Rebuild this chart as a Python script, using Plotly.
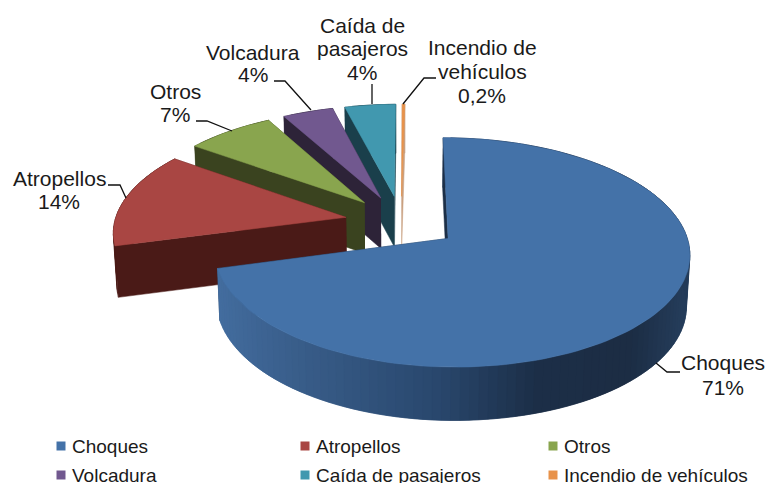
import numpy as np
import plotly.graph_objects as go

categories = ["Choques", "Atropellos", "Otros", "Volcadura", "Caída de pasajeros", "Incendio de vehículos"]
values = [71, 14, 7, 4, 4, 0.2]
value_labels = ["71%", "14%", "7%", "4%", "4%", "0,2%"]
label_lines = [["Choques"], ["Atropellos"], ["Otros"], ["Volcadura"], ["Caída de", "pasajeros"], ["Incendio de", "vehículos"]]
top_colors = ["#4472A8", "#A94643", "#89A54E", "#71588F", "#4198AF", "#E8924A"]
side_colors = ["#1C2F47", "#4A1A17", "#3A431F", "#2D2338", "#1A3F4B", "#C9A080"]

# projection of the exploded, tilted pie
CX, CY, W, H, D, K, PULL = 402, 222, 235, 109, 51, 0.12, 0.243


def project(X, Y, z=0.0):
    X, Y = np.asarray(X, float), np.asarray(Y, float)
    s = 1 / (1 + K * Y)
    return CX + W * X * s * (1 - 0.012 * z), CY - H * Y * s + D * z * s ** 0.3


fig = go.Figure()


def poly(xs, ys, color, name=None):
    fig.add_trace(go.Scatter(x=list(xs), y=list(ys), mode="lines", fill="toself", fillcolor=color,
                             line=dict(color=color, width=0.5), showlegend=False, hoverinfo="skip", name=name))


def blue_shade(sx):
    st = [217, 300, 450, 550, 640, 690]
    r = np.interp(sx, st, [68, 58, 42, 28, 28, 38])
    g = np.interp(sx, st, [110, 95, 72, 47, 45, 62])
    b = np.interp(sx, st, [160, 140, 110, 72, 68, 92])
    return f"rgb({int(r)},{int(g)},{int(b)})"


total = sum(values)
edges = np.concatenate([[0], np.cumsum(values)]) / total * 360

for i in range(len(values) - 1, -1, -1):
    a0, a1 = np.radians(edges[i]), np.radians(edges[i + 1])
    mid = (a0 + a1) / 2
    ax, ay = PULL * np.sin(mid), PULL * np.cos(mid)
    n = max(2, int(np.degrees(a1 - a0) / 2))
    th = np.linspace(a0, a1, n + 1)
    sn = np.sin(th)
    if i == 0:
        X = ax + np.where(sn < 0, 0.972, 1.0) * sn
    else:
        X = ax + sn + 0.015
    Y = ay + np.cos(th)
    # end radial wall, arc wall (overlapping segments drawn from the tail so no seams), start radial wall
    p = [project(ax, ay), project(X[-1], Y[-1]), project(X[-1], Y[-1], 1), project(ax, ay, 1)]
    poly([q[0] for q in p], [q[1] for q in p], side_colors[i])
    for j in range(n - 1, -1, -1):
        e = min(j + 2, n)
        p = [project(X[j], Y[j]), project(X[e], Y[e]), project(X[e], Y[e], 1), project(X[j], Y[j], 1)]
        m = project(X[j], Y[j])[0]
        c = blue_shade(float(m)) if i == 0 else side_colors[i]
        poly([q[0] for q in p], [q[1] for q in p], c)
    p = [project(ax, ay), project(X[0], Y[0]), project(X[0], Y[0], 1), project(ax, ay, 1)]
    poly([q[0] for q in p], [q[1] for q in p], side_colors[i])
    tx, ty = project(np.r_[ax, X, ax], np.r_[ay, Y, ay])
    poly(tx, ty, top_colors[i], categories[i])

# leader lines
leaders = [
    ([656, 667, 680], [363, 372, 372]),
    ([108, 120, 126], [185, 185, 198]),
    ([196, 207, 232], [121, 121, 131]),
    ([274, 285, 311], [81, 81, 110]),
    ([372, 372], [84, 104]),
    ([436, 424, 403], [78, 78, 104]),
]
for lx, ly in leaders:
    fig.add_trace(go.Scatter(x=lx, y=ly, mode="lines", line=dict(color="#111111", width=1.3),
                             showlegend=False, hoverinfo="skip"))

# data labels
label_pos = [(723, 362, 25), (59, 178, 23), (175, 91, 23), (253, 52, 22), (362, 25, 23.5), (482, 47, 24)]
FONT = "Liberation Sans, Arial, sans-serif"
for i, (x, y, dy) in enumerate(label_pos):
    for k, line in enumerate(label_lines[i] + [value_labels[i]]):
        fig.add_annotation(x=x, y=y + k * dy, text=line, showarrow=False, xanchor="center", yanchor="middle",
                           font=dict(family=FONT, size=21, color="#1a1a1a"))

# legend
legend_x = [61, 305, 553]
legend_y = [446, 475]
for i, name in enumerate(categories):
    lx, ly = legend_x[i % 3], legend_y[i // 3]
    fig.add_trace(go.Scatter(x=[lx], y=[ly], mode="markers", name=name, showlegend=False, hoverinfo="skip",
                             marker=dict(symbol="square", size=9, color=top_colors[i], line=dict(width=0))))
    fig.add_annotation(x=lx + 9, y=ly, text=name, showarrow=False, xanchor="left", yanchor="middle",
                       font=dict(family=FONT, size=19, color="#1a1a1a"))

fig.update_layout(
    width=768, height=483, margin=dict(l=0, r=0, t=0, b=0),
    paper_bgcolor="white", plot_bgcolor="white", showlegend=False,
    xaxis=dict(range=[0, 768], visible=False, fixedrange=True),
    yaxis=dict(range=[483, 0], visible=False, fixedrange=True),
)
fig.write_html("out.html", post_script="document.body.style.margin='0';document.body.style.overflow='hidden';",
               config={"displayModeBar": False})
